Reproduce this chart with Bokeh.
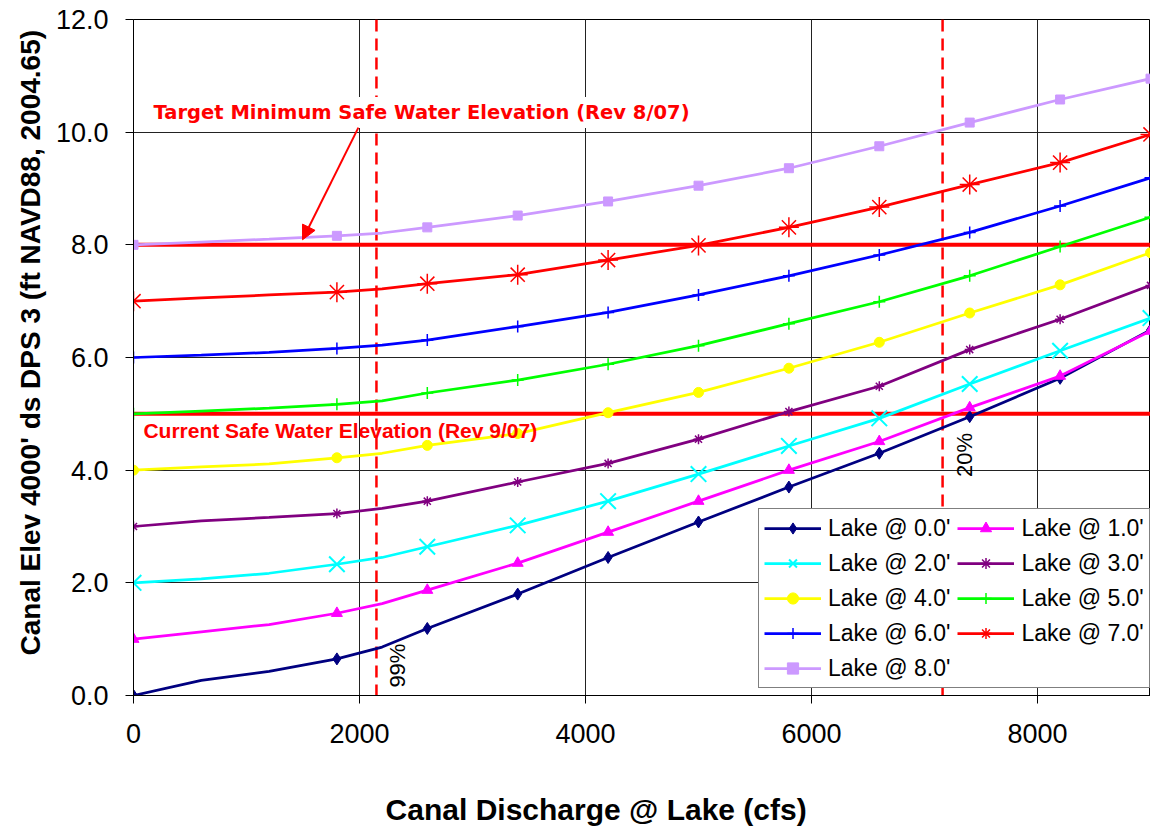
import math
from bokeh.plotting import figure
from bokeh.models import (Range1d, FixedTicker, NumeralTickFormatter, Span, Label,
                          Arrow, NormalHead, Legend, LegendItem, Title)
from bokeh.embed import file_html
from bokeh.resources import INLINE

# ---------------- data ----------------
discharge = [0, 600, 1200, 1800, 2200, 2600, 3400, 4200, 5000, 5800, 6600, 7400, 8200, 9000]
marker_discharge = [0, 1800, 2600, 3400, 4200, 5000, 5800, 6600, 7400, 8200, 9000]

lake_0 = [0.00, 0.27, 0.43, 0.65, 0.86, 1.19, 1.80, 2.45, 3.08, 3.70, 4.30, 4.95, 5.63, 6.49]
lake_1 = [1.00, 1.13, 1.26, 1.46, 1.63, 1.87, 2.35, 2.90, 3.45, 4.00, 4.51, 5.11, 5.67, 6.47]
lake_2 = [2.00, 2.07, 2.17, 2.33, 2.45, 2.64, 3.02, 3.45, 3.93, 4.43, 4.92, 5.53, 6.12, 6.70]
lake_3 = [3.00, 3.10, 3.16, 3.23, 3.32, 3.45, 3.79, 4.12, 4.55, 5.04, 5.49, 6.14, 6.68, 7.28]
lake_4 = [4.00, 4.06, 4.11, 4.22, 4.30, 4.44, 4.65, 5.02, 5.38, 5.81, 6.27, 6.79, 7.29, 7.86]
lake_5 = [5.00, 5.05, 5.10, 5.17, 5.23, 5.37, 5.60, 5.88, 6.21, 6.60, 6.99, 7.45, 7.97, 8.49]
lake_6 = [6.00, 6.04, 6.09, 6.16, 6.22, 6.31, 6.55, 6.80, 7.11, 7.45, 7.82, 8.22, 8.69, 9.19]
lake_7 = [7.00, 7.06, 7.11, 7.16, 7.22, 7.31, 7.47, 7.73, 7.99, 8.31, 8.67, 9.07, 9.46, 9.96]
lake_8 = [8.00, 8.05, 8.10, 8.16, 8.21, 8.31, 8.52, 8.77, 9.05, 9.36, 9.75, 10.17, 10.58, 10.95]

series_names = ["Lake @ 0.0'", "Lake @ 1.0'", "Lake @ 2.0'", "Lake @ 3.0'", "Lake @ 4.0'",
                "Lake @ 5.0'", "Lake @ 6.0'", "Lake @ 7.0'", "Lake @ 8.0'"]
series_values = [lake_0, lake_1, lake_2, lake_3, lake_4, lake_5, lake_6, lake_7, lake_8]

x_ticks = [0, 2000, 4000, 6000, 8000]
y_ticks = [0, 2, 4, 6, 8, 10, 12]

safe_levels = [8.0, 5.0]
exceedance_discharge = [2150, 7160]
exceedance_labels = ["99%", "20%"]

# ---------------- styles ----------------
colors = ["#000080", "#FF00FF", "#00FFFF", "#800080", "#FFFF00",
          "#00FF00", "#0000FF", "#FF0000", "#CC99FF"]
markers = ["diamond", "triangle", "x", "asterisk", "circle", "cross", "cross", "asterisk", "square"]
marker_sizes = [12, 11, 22, 10, 10, 12, 12, 20, 9]
marker_lw = [1, 1, 2, 1.5, 1, 1.5, 1.5, 1.5, 1]

FONT = "Liberation Sans"

p = figure(width=1150, height=834, x_range=Range1d(0, 9000), y_range=Range1d(0, 12),
           output_backend="svg", toolbar_location=None,
           min_border_left=133, min_border_right=0, min_border_top=19, min_border_bottom=139)
p.background_fill_color = "white"
p.border_fill_color = "white"
p.outline_line_color = "black"
p.outline_line_width = 1

for ax in (p.xaxis, p.yaxis):
    ax.axis_line_color = "black"
    ax.major_tick_line_color = "black"
    ax.major_tick_out = 8
    ax.major_tick_in = 0
    ax.minor_tick_line_color = None
    ax.major_label_text_font = FONT
    ax.major_label_text_font_size = "27px"
    ax.major_label_text_color = "black"
p.xaxis.ticker = FixedTicker(ticks=x_ticks)
p.yaxis.ticker = FixedTicker(ticks=y_ticks)
p.yaxis.formatter = NumeralTickFormatter(format="0.0")
p.xaxis.major_label_standoff = 20
p.yaxis.major_label_standoff = 17

# x-axis title: trailing no-break spaces shift the centred title left, as in the reference
p.xaxis.axis_label = "Canal Discharge @ Lake (cfs)" + "\u00a0" * 11
p.xaxis.axis_label_standoff = 47
p.xaxis.axis_label_text_font = FONT
p.xaxis.axis_label_text_font_style = "bold"
p.xaxis.axis_label_text_font_size = "30px"
p.xaxis.axis_label_text_color = "black"

p.xgrid.ticker = FixedTicker(ticks=x_ticks)
p.ygrid.ticker = FixedTicker(ticks=y_ticks)
for g in (p.xgrid, p.ygrid):
    g.grid_line_color = "#222222"
    g.grid_line_width = 1

for lvl in safe_levels:
    p.add_layout(Span(location=lvl, dimension="width", line_color="red", line_width=4,
                      level="underlay"))
for xd in exceedance_discharge:
    p.add_layout(Span(location=xd, dimension="height", line_color="red", line_width=2.5,
                      line_dash="12 7", level="underlay"))

items = []
for name, vals, c, m, ms, mlw in zip(series_names, series_values, colors, markers,
                                     marker_sizes, marker_lw):
    ln = p.line(discharge, vals, line_color=c, line_width=2.75)
    my = [v for xv, v in zip(discharge, vals) if xv in marker_discharge]
    mx = [xv for xv in discharge if xv in marker_discharge]
    sc = p.scatter(mx, my, marker=m, size=ms, fill_color=c, line_color=c, line_width=mlw)
    items.append(LegendItem(label=name, renderers=[ln, sc]))

legend = Legend(items=items, location=(625, 7), orientation="horizontal", ncols=2,
                glyph_width=57, glyph_height=28, label_height=28, label_standoff=7,
                spacing=7, padding=5, margin=0,
                label_text_font=FONT, label_text_font_size="23px", label_text_color="black",
                border_line_color="black", border_line_width=1,
                background_fill_color="white", background_fill_alpha=1)
p.add_layout(legend)

p.add_layout(Label(x=142, y=10.35, text="Target Minimum Safe Water Elevation (Rev 8/07)",
                   text_font="DejaVu Sans", text_font_style="bold",
                   text_font_size="19.5px", text_color="red", text_align="left",
                   text_baseline="middle", background_fill_color="white",
                   background_fill_alpha=1, padding=4))
p.add_layout(Label(x=88, y=4.71, text="Current Safe Water Elevation (Rev 9/07)",
                   text_font=FONT, text_font_style="bold",
                   text_font_size="21px", text_color="red", text_align="left",
                   text_baseline="middle"))
p.add_layout(Arrow(end=NormalHead(size=14, fill_color="red", line_color="red"),
                   x_start=1990, y_start=10.08, x_end=1496, y_end=8.09,
                   line_color="red", line_width=2))

pct_pos = [(2332, 0.14), (7358, 3.88)]
for (px_, py_), txt in zip(pct_pos, exceedance_labels):
    p.add_layout(Label(x=px_, y=py_, text=txt, angle=math.pi / 2, text_font=FONT,
                       text_font_size="22px", text_color="black", text_align="left",
                       text_baseline="middle"))

p.add_layout(Title(text="Canal Elev 4000' ds DPS 3 (ft NAVD88, 2004.65)", align="left",
                   offset=40, standoff=14, text_font=FONT, text_font_style="bold",
                   text_font_size="28px", text_color="black"), "left")

open("out.html", "w").write(file_html(p, INLINE))
